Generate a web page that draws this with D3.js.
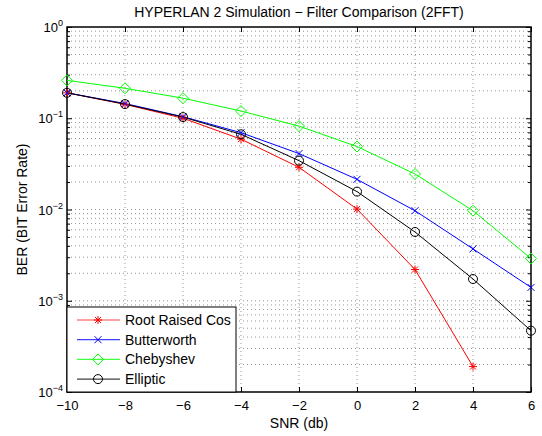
<!DOCTYPE html>
<html>
<head>
<meta charset='UTF-8'>
<title>HYPERLAN 2 Simulation</title>
<script src='https://cdn.jsdelivr.net/npm/d3@7'></script>
<style>
  body { margin:0; background:#fff; }
  text { font-family: 'Liberation Sans', Arial, sans-serif; }
  .grid line { stroke:#000; stroke-width:0.7; stroke-dasharray:1,3; opacity:0.6; }
</style>
</head>
<body>
<div id='chart'></div>
<script>
var snr = [-10, -8, -6, -4, -2, 0, 2, 4, 6];
var rootRaisedCos = [0.19, 0.142, 0.100, 0.059, 0.029, 0.0101, 0.0022, 0.00019];
var butterworth = [0.19, 0.145, 0.104, 0.0695, 0.041, 0.0214, 0.0097, 0.0037, 0.0014];
var chebyshev = [0.26, 0.213, 0.166, 0.12, 0.082, 0.049, 0.0245, 0.0097, 0.0029];
var elliptic = [0.19, 0.143, 0.103, 0.0667, 0.0343, 0.0157, 0.00567, 0.00173, 0.00047];
var seriesNames = ['Root Raised Cos', 'Butterworth', 'Chebyshev', 'Elliptic'];
var xTicks = [-10, -8, -6, -4, -2, 0, 2, 4, 6];
var yExponents = [0, -1, -2, -3, -4];

var width = 542, height = 436;
var pLeft = 67, pRight = 531, pTop = 27, pBottom = 392;

var series = [
  {name: seriesNames[0], values: rootRaisedCos, color: '#ff0000', marker: 'star'},
  {name: seriesNames[1], values: butterworth, color: '#0000ff', marker: 'x'},
  {name: seriesNames[2], values: chebyshev, color: '#00ff00', marker: 'diamond'},
  {name: seriesNames[3], values: elliptic, color: '#000000', marker: 'circle'}
];

var x = d3.scaleLinear().domain([-10, 6]).range([pLeft, pRight]);
var y = d3.scaleLog().domain([1e-4, 1]).range([pBottom, pTop]);

var svg = d3.select('#chart').append('svg')
  .attr('width', width)
  .attr('height', height);

/* grid */
var minorVals = [];
for (var e = -4; e < 0; e++) {
  for (var m = 1; m < 10; m++) minorVals.push(m * Math.pow(10, e));
}
var grid = svg.append('g').attr('class', 'grid');
grid.selectAll('.gy').data(minorVals.filter(function(v) { return v > 1.5e-4; })).enter()
  .append('line')
  .attr('x1', pLeft).attr('x2', pRight)
  .attr('y1', d => y(d)).attr('y2', d => y(d));
grid.selectAll('.gx').data(xTicks.slice(1, -1)).enter()
  .append('line')
  .attr('x1', d => x(d)).attr('x2', d => x(d))
  .attr('y1', pTop).attr('y2', pBottom);

/* axes */
var xAxis = d3.axisBottom(x).tickValues(xTicks).tickSizeInner(-5).tickSizeOuter(0)
  .tickFormat(d => d < 0 ? '\u2212' + Math.abs(d) : d);
var xTop = d3.axisTop(x).tickValues(xTicks).tickSizeInner(-5).tickSizeOuter(0).tickFormat('');
var yAxis = d3.axisLeft(y).tickValues(minorVals.concat([1])).tickSizeOuter(0).tickFormat('');
var yRight = d3.axisRight(y).tickValues(minorVals.concat([1])).tickSizeOuter(0).tickFormat('');

svg.append('g').attr('transform', `translate(0,${pBottom})`).call(xAxis)
  .call(g => g.selectAll('text').attr('font-size', 13).attr('dy', '1.15em').attr('fill', '#000'));
svg.append('g').attr('transform', `translate(0,${pTop})`).call(xTop);
var gy = svg.append('g').attr('transform', `translate(${pLeft},0)`).call(yAxis);
var gyr = svg.append('g').attr('transform', `translate(${pRight},0)`).call(yRight);
[gy, gyr].forEach(function(g, k) {
  g.selectAll('.tick line').attr('x2', function(d) {
    var major = Math.abs(Math.log10(d) - Math.round(Math.log10(d))) < 1e-9;
    var len = major ? 5 : 3;
    return k === 0 ? len : -len;
  });
});
svg.selectAll('.domain').remove();
svg.selectAll('.tick line').attr('stroke', '#000');

svg.append('rect')
  .attr('x', pLeft).attr('y', pTop)
  .attr('width', pRight - pLeft).attr('height', pBottom - pTop)
  .attr('fill', 'none').attr('stroke', '#000').attr('stroke-width', 1.5);

/* y tick labels with superscripts */
var yl = svg.append('g').selectAll('text').data(yExponents).enter()
  .append('text')
  .attr('x', pLeft - 4)
  .attr('y', d => y(Math.pow(10, d)) + 5)
  .attr('text-anchor', 'end')
  .attr('font-size', 13);
yl.append('tspan').text('10');
yl.append('tspan').attr('dy', -6).attr('font-size', 9)
  .text(d => d === 0 ? '0' : '\u2212' + Math.abs(d));

/* lines and markers */
var line = d3.line()
  .x((d, i) => x(snr[i]))
  .y(d => y(d));

function drawMarker(g, type, color) {
  if (type === 'star') {
    g.append('path').attr('d', 'M-4,0H4M0,-4V4M-3,-3L3,3M-3,3L3,-3')
      .attr('stroke', color).attr('stroke-width', 1).attr('fill', 'none');
  } else if (type === 'x') {
    g.append('path').attr('d', 'M-3.5,-3.5L3.5,3.5M-3.5,3.5L3.5,-3.5')
      .attr('stroke', color).attr('stroke-width', 1).attr('fill', 'none');
  } else if (type === 'diamond') {
    g.append('path').attr('d', 'M0,-5.5L5.5,0L0,5.5L-5.5,0Z')
      .attr('stroke', color).attr('stroke-width', 1).attr('fill', 'none');
  } else {
    g.append('circle').attr('r', 4.5)
      .attr('stroke', color).attr('stroke-width', 1).attr('fill', 'none');
  }
}

var plot = svg.append('g');
series.forEach(function(s) {
  plot.append('path')
    .attr('d', line(s.values))
    .attr('fill', 'none')
    .attr('stroke', s.color)
    .attr('stroke-width', 1);
});
series.forEach(function(s) {
  s.values.forEach(function(v, i) {
    var g = plot.append('g').attr('transform', `translate(${x(snr[i])},${y(v)})`);
    drawMarker(g, s.marker, s.color);
  });
});

/* legend */
var lg = svg.append('g').attr('transform', `translate(${pLeft},307)`);
lg.append('rect').attr('width', 169).attr('height', pBottom - 307)
  .attr('fill', '#fff').attr('stroke', '#000').attr('stroke-width', 1);
series.forEach(function(s, i) {
  var row = lg.append('g').attr('transform', `translate(0,${13 + i * 19.7})`);
  row.append('line').attr('x1', 10).attr('x2', 53)
    .attr('stroke', s.color).attr('stroke-width', 1.2).attr('stroke-opacity', 0.75);
  drawMarker(row.append('g').attr('transform', 'translate(31,0)'), s.marker, s.color);
  row.append('text').attr('x', 58).attr('y', 5).attr('font-size', 14).text(s.name);
});

/* labels */
svg.append('text').attr('x', (pLeft + pRight) / 2).attr('y', 16.5)
  .attr('text-anchor', 'middle').attr('font-size', 14)
  .text('HYPERLAN 2 Simulation \u2212 Filter Comparison (2FFT)');
svg.append('text').attr('x', (pLeft + pRight) / 2).attr('y', 428)
  .attr('text-anchor', 'middle').attr('font-size', 14)
  .text('SNR (db)');
svg.append('text')
  .attr('transform', `translate(27,${(pTop + pBottom) / 2}) rotate(-90)`)
  .attr('text-anchor', 'middle').attr('font-size', 14)
  .text('BER (BIT Error Rate)');
</script>
</body>
</html>
